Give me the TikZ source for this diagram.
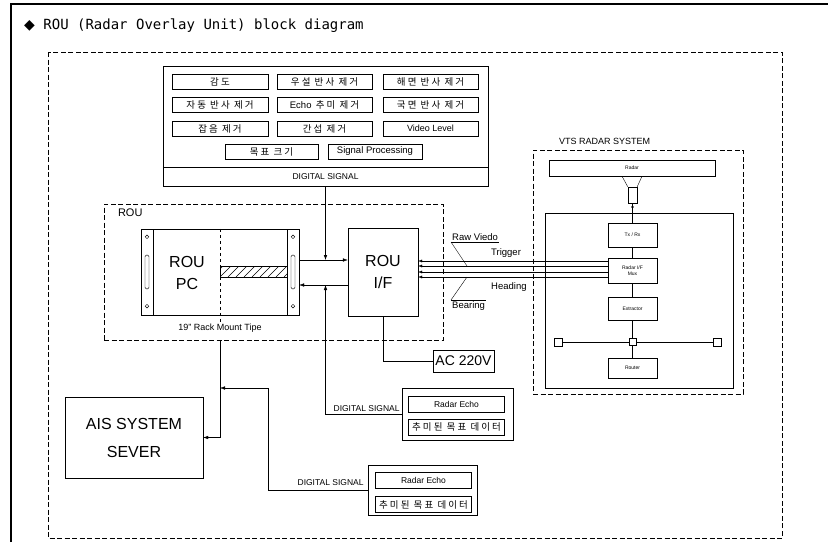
\documentclass[tikz,border=0pt]{standalone}
\usepackage{fontspec}
\setmainfont{Liberation Sans}
\newfontfamily\krfont{Noto Sans CJK KR}[LetterSpace=22]
\newfontfamily\latfont{Liberation Sans}
\newfontfamily\titlefont{DejaVu Sans Mono}
\newfontfamily\diafont{DejaVu Sans}
\usetikzlibrary{arrows.meta,positioning,calc}

\begin{document}
\begin{tikzpicture}[x=1pt, y=-1pt, >={Latex[length=5pt,width=3.5pt]},
    every node/.style={font=\fontsize{9}{9}\selectfont, inner sep=1pt},
    box/.style={draw, inner sep=0pt, align=center},
    btn/.style={draw, inner sep=0pt, minimum width=95pt, minimum height=15pt, font=\krfont\fontsize{9.5}{9.5}\selectfont},
    unit/.style={draw, inner sep=0pt, minimum width=49pt, align=center, font=\fontsize{5}{6}\selectfont},
    echo/.style={draw, inner sep=0pt, minimum width=96pt, minimum height=16pt, font=\fontsize{8.5}{8.5}\selectfont},
    frm/.style={draw, dash pattern=on 5pt off 2.5pt}]
    \useasboundingbox (0,0) rectangle (828,542);

    % frame and title
    \draw[line width=1.2pt] (11,542) -- (11,4) -- (828,4);
    \node[anchor=west, inner sep=0pt, font=\titlefont\fontsize{14}{14}\selectfont] (title) at (24,26) {{\diafont ◆} ROU (Radar Overlay Unit) block diagram};
    \draw[frm] (48,52) rectangle (782,538);

    % signal processing panel
    \node[box, minimum width=325pt, minimum height=120pt] (panel) at (325.5,126) {};
    \node[btn, minimum width=96pt] (gain) at (220,81.5) {감도};
    \node[btn] (rain) at (324.5,81.5) {우설 반사 제거};
    \node[btn] (sea) at (430.5,81.5) {해면 반사 제거};
    \node[btn, minimum width=96pt] (autoc) at (220,104.5) {자동 반사 제거};
    \node[btn] (trail) at (324.5,104.5) {{\latfont Echo} 추미 제거};
    \node[btn] (side) at (430.5,104.5) {국면 반사 제거};
    \node[btn, minimum width=96pt] (noise) at (220,128.5) {잡음 제거};
    \node[btn] (intf) at (324.5,128.5) {간섭 제거};
    \node[btn, font=\fontsize{9}{9}\selectfont] (video) at (430.5,128.5) {Video Level};
    \node[btn, minimum width=93pt] (tsize) at (271.5,151.5) {목표 크기};
    \node[btn, minimum width=94pt, font=\fontsize{9.5}{9.5}\selectfont] (sigproc) at (375,151.5) {Signal Processing};
    \draw ($(panel.south west)+(0,-19)$) -- ($(panel.south east)+(0,-19)$);
    \node[font=\fontsize{8.5}{8.5}\selectfont] (dsig) at ($(panel.south)+(0,-9.5)$) {DIGITAL SIGNAL};

    % ROU unit
    \node[frm, minimum width=339pt, minimum height=136pt] (rou) at (273.5,272) {};
    \node[anchor=north west, font=\fontsize{11}{11}\selectfont] (roulbl) at ($(rou.north west)+(13,4)$) {ROU};
    \node[box, minimum width=134pt, minimum height=86pt] (pc) at (220,272) {};
    \node[box, minimum width=12pt, minimum height=86pt] (earl) at (147,272) {};
    \node[box, minimum width=12pt, minimum height=86pt] (earr) at (293,272) {};
    \foreach \e in {earl,earr} {
      \draw[rounded corners=1.5pt] ($(\e.center)+(-2,-17)$) rectangle ($(\e.center)+(2,17)$);
      \draw ($(\e.north)+(0,8)$) circle (1.8);
      \draw ($(\e.south)+(0,-9)$) circle (1.8);
    }
    \node[font=\fontsize{16}{22}\selectfont, align=center] (pclbl) at (187,273) {ROU\\PC};
    \draw[dashed] (pc.north) -- ++(0,93);
    \begin{scope}
      \clip (220,266) rectangle (287,277);
      \foreach \x in {212,220,...,284} \draw (\x,277) -- ++(11,-11);
    \end{scope}
    \draw (220,266) rectangle (287,277);
    \node (rack) at (220,328) {19" Rack Mount Tipe};
    \node[box, minimum width=70pt, minimum height=88pt, font=\fontsize{16}{22}\selectfont] (rif) at (383,272) {ROU\\I/F};

    % links between PC and I/F
    \coordinate (j1) at (325.5,260);
    \coordinate (j2) at (325.5,285);
    \draw[->] (earr.east |- j1) -- (rif.west |- j1);
    \draw[<-] (earr.east |- j2) -- (rif.west |- j2);
    \draw[->] (panel.south) -- (j1);

    % power
    \node[box, minimum width=61pt, minimum height=22pt, font=\fontsize{14}{14}\selectfont] (ac) at (463.5,361) {AC 220V};
    \draw (rif.south) |- (ac.west);

    % echo data boxes
    \node[box, minimum width=111pt, minimum height=52pt] (echo1) at (457.5,414) {};
    \node[echo] (rad1) at ($(echo1.center)+(-1,-9.5)$) {Radar Echo};
    \node[echo, font=\krfont\fontsize{9.5}{9.5}\selectfont] (trk1) at ($(echo1.center)+(-1,13)$) {추미된 목표 데이터};
    \draw[->] (echo1.west) -| (j2);
    \node[anchor=south east, inner sep=2pt, font=\fontsize{8.5}{8.5}\selectfont] (dsig1) at (echo1.west) {DIGITAL SIGNAL};

    \node[box, minimum width=109pt, minimum height=50pt] (echo2) at (422.5,490) {};
    \node[echo] (rad2) at ($(echo2.center)+(1,-9.5)$) {Radar Echo};
    \node[echo, font=\krfont\fontsize{9.5}{9.5}\selectfont] (trk2) at ($(echo2.center)+(1,14.5)$) {추미된 목표 데이터};
    \coordinate (bend) at (268,388);
    \coordinate (drop) at (220,388);
    \draw[->] (echo2.west) -| (bend) -- (drop);
    \node[anchor=south east, inner sep=4pt, font=\fontsize{8.5}{8.5}\selectfont] (dsig2) at (echo2.west) {DIGITAL SIGNAL};

    % AIS server
    \node[box, minimum width=138pt, minimum height=81pt, font=\fontsize{16}{28}\selectfont] (ais) at (134,437.5) {AIS SYSTEM\\SEVER};
    \draw[->] (pc.south |- rou.south) |- (ais.east);

    % VTS radar system
    \node[frm, minimum width=210pt, minimum height=244pt] (vts) at (638,272) {};
    \node[anchor=south west] (vtslbl) at ($(vts.north west)+(25,-4)$) {VTS RADAR SYSTEM};
    \node[box, minimum width=166pt, minimum height=16pt, font=\fontsize{5}{5}\selectfont] (radar) at (632,168) {Radar};
    \node[draw, minimum width=188pt, minimum height=175pt] (inner) at (639,300.5) {};
    \node[draw, inner sep=0pt, minimum width=9pt, minimum height=16pt] (guide) at (632.5,195) {};
    \draw ($(radar.south)+(-10,0)$) -- (guide.north west);
    \draw ($(radar.south)+(10,0)$) -- (guide.north east);
    \node[unit, minimum height=24pt] (txrx) at (632.5,235) {Tx / Rx};
    \node[unit, minimum height=25pt] (mux) at (632.5,270.5) {Radar I/F\\Mux};
    \node[unit, minimum height=23pt] (ext) at (632.5,308.5) {Extractor};
    \node[draw, inner sep=0pt, minimum size=7pt] (hub) at (632.5,342) {};
    \node[draw, inner sep=0pt, minimum size=8pt] (lsq) at (558,342) {};
    \node[draw, inner sep=0pt, minimum size=8pt] (rsq) at (717,342) {};
    \node[unit, minimum height=20pt] (router) at (632.5,368) {Router};
    \draw (guide.south) -- (txrx.north);
    \fill (632.5,207) circle (1.3);
    \draw (txrx) -- (mux);
    \draw (mux) -- (ext);
    \draw (ext) -- (hub);
    \draw (hub) -- (router);
    \draw (lsq) -- (hub) -- (rsq);

    % radar signals
    \foreach \y in {261,266,272,277}
      \draw[-{Latex[length=4pt,width=3pt]}] (mux.west |- 0,\y) -- (rif.east |- 0,\y);
    \node[anchor=south west, font=\fontsize{9.5}{9.5}\selectfont] (rawv) at (451,242) {Raw Viedo};
    \draw (rawv.south west) -- (rawv.south east);
    \draw (rawv.south west) -- (467,266);
    \node[anchor=south west, font=\fontsize{9.5}{9.5}\selectfont] (trig) at (490,259) {Trigger};
    \node[anchor=north west, font=\fontsize{9.5}{9.5}\selectfont] (head) at (490,281) {Heading};
    \node[anchor=north west, font=\fontsize{9.5}{9.5}\selectfont] (bear) at (451,300) {Bearing};
    \draw (bear.north west) -- (bear.north east);
    \draw (bear.north west) -- (467,277);
\end{tikzpicture}
\end{document}
